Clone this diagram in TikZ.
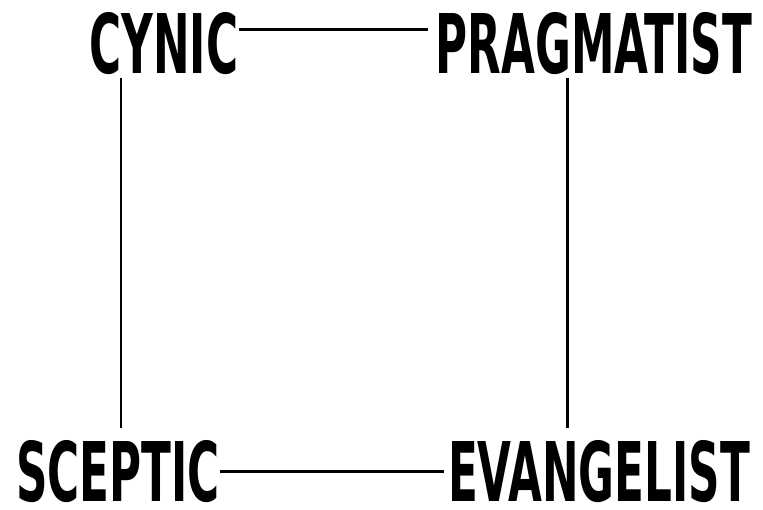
\documentclass[tikz,border=0pt]{standalone}
\usepackage{fontspec}
\newfontfamily\headfont[FakeStretch=0.59]{DejaVu Sans Condensed Bold}

\begin{document}
\begin{tikzpicture}[x=0.01cm,y=-0.01cm,
  word/.style={font=\headfont\fontsize{23.4}{24}\selectfont,inner sep=0pt},
  link/.style={line width=0.8pt,black}]
\useasboundingbox (0,0) rectangle (763,510);
\node[word] (cynic) at (164,44) {CYNIC};
\node[word] (prag) at (594,44) {PRAGMATIST};
\node[word] (sceptic) at (118,472) {SCEPTIC};
\node[word] (evang) at (599,472) {EVANGELIST};
% ends of the two uprights
\coordinate (c1) at ([xshift=0.32cm,yshift=-0.02cm]cynic.south west);
\coordinate (s1) at ([yshift=0.12cm]sceptic.north);
\coordinate (p1) at ([xshift=1.32cm,yshift=-0.02cm]prag.south west);
\coordinate (e1) at ([yshift=0.12cm]evang.north);
\draw[link] ([yshift=-0.17cm]cynic.north east) -- ([xshift=-0.07cm,yshift=-0.17cm]prag.north west);
\draw[link] ([yshift=-0.31cm]sceptic.north east) -- ([xshift=-0.03cm,yshift=-0.31cm]evang.north west);
\draw[link] (c1) -- (c1 |- s1);
\draw[link] (p1) -- (p1 |- e1);
\end{tikzpicture}
\end{document}
